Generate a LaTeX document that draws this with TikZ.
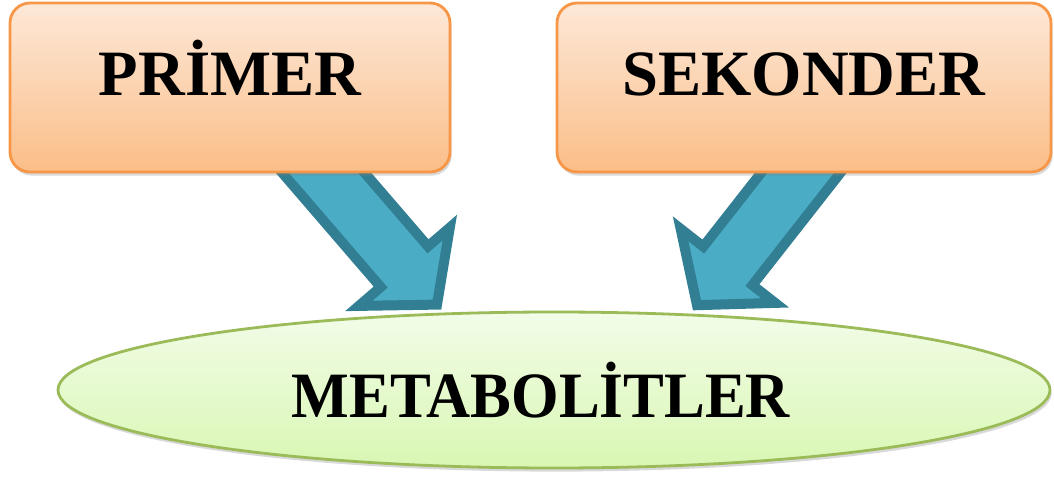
\documentclass[tikz,border=0pt]{standalone}
\usepackage{fontspec}
\setmainfont{Liberation Serif}
\usetikzlibrary{calc,shapes.geometric,shadows,backgrounds}
\definecolor{boxtop}{HTML}{FDE8D8}
\definecolor{boxbot}{HTML}{FBBE88}
\definecolor{boxline}{HTML}{F79646}
\definecolor{elltop}{HTML}{F2FCE8}
\definecolor{ellbot}{HTML}{D9F7B3}
\definecolor{ellline}{HTML}{9BBB59}
\definecolor{arrfill}{HTML}{4BACC6}
\definecolor{arrline}{HTML}{327F93}
\tikzset{
  cbox/.style={
    rectangle, rounded corners=0.5cm, draw=boxline, line width=0.07cm,
    top color=boxtop, bottom color=boxbot,
    minimum width=11cm, inner sep=0pt,
    text height=2.3cm, text depth=1.925cm,
    font=\bfseries\fontsize{46}{50}\selectfont,
    drop shadow={opacity=0.3, shadow xshift=0.04cm, shadow yshift=-0.09cm}
  },
  cell/.style={
    ellipse, draw=ellline, line width=0.07cm,
    top color=elltop, bottom color=ellbot,
    minimum width=24.8cm, minimum height=3.9cm, inner sep=0pt,
    font=\bfseries\fontsize{46}{50}\selectfont,
    drop shadow={opacity=0.3, shadow xshift=0.04cm, shadow yshift=-0.09cm}
  },
  barrow/.style={draw=arrline, fill=arrfill, line width=0.25cm, line join=miter}
}

\begin{document}
\begin{tikzpicture}
\useasboundingbox (0,0) rectangle (26.35,-11.925);

% ── Boxes ─────────────────────────────────────────────────────────
\node[cbox] (prim) at (5.75,-2.1875) {PRİMER};
\node[cbox, minimum width=12.35cm] (sek) at (20.1,-2.1875) {SEKONDER};

% ── Ellipse ───────────────────────────────────────────────────────
\node[cell] (meta) at (13.85,-9.75)
  {\hspace*{-0.65cm}\scalebox{0.945}[1]{METABOLİTLER}};

% ── Block arrows (behind) ─────────────────────────────────────────
\begin{scope}[on background layer]
  \coordinate (p1) at ($(prim.south)+(1.875,0.55)$);
  \coordinate (m1) at ($(meta.north)+(-2.925,0.15)$);
  \coordinate (p2) at ($(sek.south)+(0.34,0.55)$);
  \coordinate (m2) at ($(meta.north)+(3.575,0.135)$);
  \foreach \a/\b in {p1/m1,p2/m2}{
    \coordinate (h) at ($(\b)!1.25cm!(\a)$);
    \draw[barrow] ($(\a)!0.78cm!90:(\b)$) -- ($(h)!0.78cm!90:(\b)$)
      -- ($(h)!1.5cm!90:(\b)$) -- (\b) -- ($(h)!1.5cm!-90:(\b)$)
      -- ($(h)!0.78cm!-90:(\b)$) -- ($(\a)!0.78cm!-90:(\b)$) -- cycle;
  }
\end{scope}

\end{tikzpicture}
\end{document}
